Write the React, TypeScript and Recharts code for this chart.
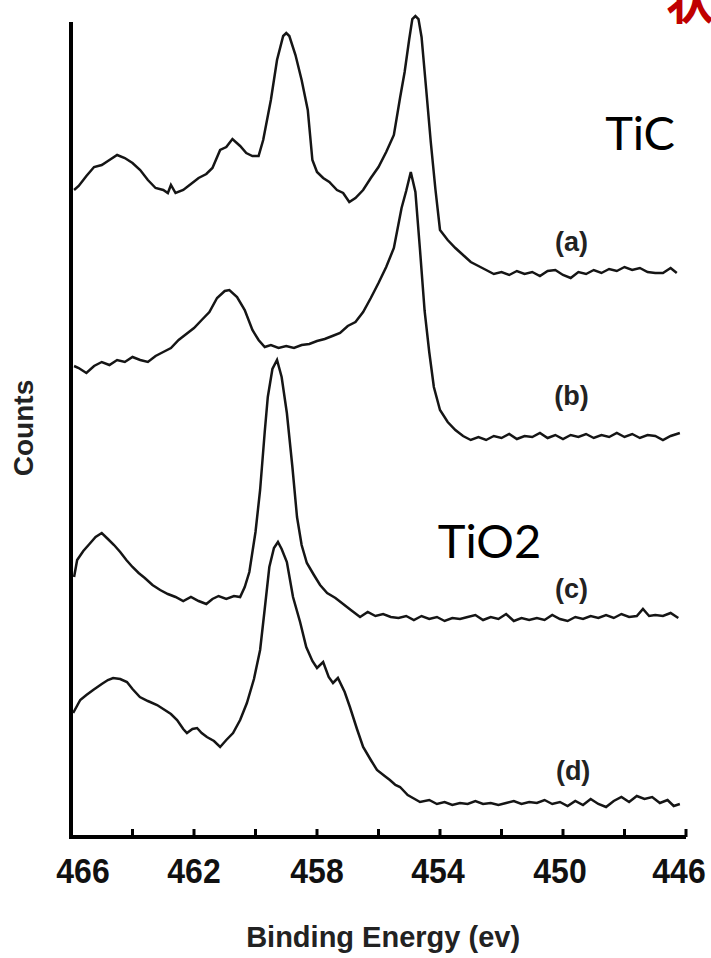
import { LineChart, Line, XAxis, YAxis, ReferenceLine, ReferenceDot } from 'recharts'

// binding energy (eV) and counts (arbitrary, already stacked) for each spectrum
const energyA = [465.9, 465.75, 465.5, 465.25, 465.0, 464.75, 464.5, 464.25, 464.0, 463.75, 463.5, 463.25, 463.0, 462.85, 462.75, 462.6, 462.35, 462.1, 461.85, 461.6, 461.4, 461.15, 460.95, 460.75, 460.5, 460.3, 460.1, 459.9, 459.75, 459.5, 459.3, 459.1, 459.0, 458.9, 458.7, 458.5, 458.3, 458.15, 458.0, 457.8, 457.6, 457.35, 457.15, 456.95, 456.75, 456.5, 456.25, 456.0, 455.75, 455.5, 455.3, 455.15, 455.0, 454.9, 454.8, 454.7, 454.6, 454.45, 454.3, 454.15, 454.0, 453.75, 453.5, 453.25, 453.0, 452.75, 452.5, 452.25, 452.0, 451.75, 451.5, 451.25, 451.0, 450.75, 450.5, 450.25, 450.0, 449.75, 449.5, 449.25, 449.0, 448.75, 448.5, 448.25, 448.0, 447.75, 447.5, 447.25, 447.0, 446.75, 446.5, 446.3]
const countsA = [647, 651, 661, 670, 672, 677, 682, 679, 674, 667, 657, 649, 647, 644, 652, 644, 647, 653, 659, 663, 669, 687, 690, 698, 691, 684, 681, 681, 697, 737, 777, 801, 804, 801, 782, 757, 727, 677, 665, 659, 655, 647, 644, 635, 639, 647, 659, 670, 685, 702, 739, 765, 798, 818, 821, 818, 800, 748, 695, 648, 607, 597, 589, 582, 575, 571, 567, 563, 565, 562, 566, 563, 565, 561, 566, 567, 562, 559, 565, 563, 567, 564, 568, 566, 570, 567, 569, 565, 564, 564, 569, 564]

const energyB = [465.9, 465.75, 465.5, 465.25, 465.0, 464.75, 464.5, 464.25, 464.0, 463.75, 463.5, 463.25, 463.0, 462.75, 462.5, 462.25, 462.0, 461.75, 461.5, 461.25, 461.0, 460.85, 460.6, 460.35, 460.1, 459.9, 459.7, 459.5, 459.25, 459.0, 458.75, 458.5, 458.25, 458.0, 457.75, 457.5, 457.25, 457.0, 456.75, 456.5, 456.25, 456.0, 455.75, 455.5, 455.25, 455.1, 454.95, 454.8, 454.65, 454.5, 454.35, 454.2, 454.0, 453.75, 453.5, 453.25, 453.0, 452.75, 452.5, 452.25, 452.0, 451.75, 451.5, 451.25, 451.0, 450.75, 450.5, 450.25, 450.0, 449.75, 449.5, 449.25, 449.0, 448.75, 448.5, 448.25, 448.0, 447.75, 447.5, 447.25, 447.0, 446.75, 446.5, 446.2]
const countsB = [471, 469, 464, 471, 475, 472, 477, 475, 480, 477, 475, 481, 485, 489, 497, 503, 509, 517, 525, 539, 546, 547, 540, 527, 507, 497, 490, 492, 489, 491, 489, 492, 493, 496, 498, 501, 504, 511, 515, 525, 539, 554, 570, 589, 629, 646, 665, 645, 587, 526, 485, 450, 427, 415, 407, 401, 397, 400, 397, 401, 399, 403, 398, 401, 400, 404, 399, 402, 398, 402, 400, 403, 399, 402, 400, 404, 400, 403, 399, 402, 401, 397, 401, 404]

const energyC = [465.9, 465.8, 465.6, 465.4, 465.2, 465.0, 464.8, 464.6, 464.4, 464.2, 464.0, 463.8, 463.6, 463.35, 463.1, 462.85, 462.6, 462.35, 462.1, 461.85, 461.6, 461.4, 461.2, 460.95, 460.7, 460.5, 460.35, 460.2, 460.0, 459.85, 459.7, 459.6, 459.45, 459.3, 459.15, 458.98, 458.8, 458.65, 458.5, 458.33, 458.1, 457.9, 457.67, 457.4, 457.15, 456.9, 456.6, 456.35, 456.1, 455.85, 455.6, 455.35, 455.1, 454.85, 454.6, 454.35, 454.1, 453.85, 453.6, 453.35, 453.1, 452.85, 452.6, 452.35, 452.1, 451.85, 451.6, 451.35, 451.1, 450.85, 450.6, 450.35, 450.1, 449.85, 449.6, 449.35, 449.1, 448.85, 448.6, 448.35, 448.1, 447.85, 447.6, 447.4, 447.2, 447.0, 446.75, 446.5, 446.25]
const countsC = [260, 277, 286, 293, 300, 304, 298, 292, 285, 277, 270, 264, 259, 252, 247, 243, 240, 236, 240, 236, 233, 238, 241, 238, 241, 240, 250, 265, 305, 347, 405, 440, 468, 477, 460, 424, 370, 320, 292, 274, 262, 252, 244, 239, 233, 227, 220, 225, 221, 223, 220, 219, 221, 217, 221, 218, 220, 216, 219, 218, 220, 222, 217, 220, 218, 223, 216, 219, 217, 219, 217, 222, 218, 216, 220, 218, 221, 219, 222, 219, 223, 220, 221, 228, 221, 222, 221, 224, 219]

const energyD = [465.93, 465.7, 465.5, 465.28, 465.0, 464.8, 464.63, 464.4, 464.18, 464.0, 463.76, 463.5, 463.2, 463.0, 462.75, 462.55, 462.35, 462.23, 462.05, 461.9, 461.75, 461.58, 461.35, 461.15, 460.95, 460.73, 460.5, 460.28, 460.05, 459.85, 459.7, 459.55, 459.4, 459.27, 459.15, 458.98, 458.78, 458.55, 458.35, 458.15, 458.0, 457.8, 457.62, 457.48, 457.32, 457.1, 456.93, 456.7, 456.5, 456.25, 456.05, 455.8, 455.63, 455.45, 455.3, 455.05, 454.88, 454.65, 454.35, 454.1, 453.85, 453.6, 453.35, 453.1, 452.85, 452.6, 452.35, 452.1, 451.85, 451.6, 451.35, 451.1, 450.85, 450.6, 450.35, 450.1, 449.85, 449.6, 449.35, 449.1, 448.85, 448.6, 448.35, 448.1, 447.85, 447.6, 447.35, 447.1, 446.85, 446.6, 446.4, 446.2]
const countsD = [124, 137, 142, 147, 153, 157, 159, 158, 155, 148, 140, 136, 132, 128, 123, 117, 108, 104, 108, 109, 104, 100, 96, 90, 97, 104, 117, 134, 158, 187, 228, 270, 289, 295, 288, 275, 240, 215, 190, 176, 169, 175, 160, 154, 159, 145, 130, 108, 90, 77, 67, 61, 57, 52, 50, 42, 39, 35, 37, 33, 35, 32, 34, 33, 36, 33, 34, 32, 34, 36, 33, 35, 34, 37, 33, 35, 31, 36, 32, 38, 33, 30, 36, 40, 35, 41, 38, 40, 34, 37, 31, 33]

const xTicks = [466, 464, 462, 460, 458, 456, 454, 452, 450, 448, 446]
const xTickLabels = [466, 462, 458, 454, 450, 446]

const zip = (es: number[], vs: number[]) => es.map((e, i) => ({ e, v: vs[i] }))
const spectra = [zip(energyA, countsA), zip(energyB, countsB), zip(energyC, countsC), zip(energyD, countsD)]

const ARIAL = 'Liberation Sans, Arial, Helvetica, sans-serif'

// label anchors, in data units
const curveTags = [
  { text: '(a)', e: 449.72, v: 586 },
  { text: '(b)', e: 449.72, v: 432 },
  { text: '(c)', e: 449.72, v: 239 },
  { text: '(d)', e: 449.67, v: 57 },
]
const phaseTags = [
  { text: 'TiC', e: 448.63, v: 687 },
  { text: 'TiO2', e: 454.07, v: 279 },
]

const labelNudge: Record<number, number> = { 466: 12, 454: -2, 450: -3, 446: -7 }

const XTick = (props: any) => {
  const { x, y, payload } = props
  const val = payload.value
  return (
    <g>
      <line x1={x} x2={x} y1={y} y2={y - 8} stroke="#000" strokeWidth={3} />
      {xTickLabels.includes(val) && (
        <text
          transform={`translate(${x + (labelNudge[val] ?? 0)}, ${y + 46}) scale(1, 1.12)`}
          textAnchor="middle"
          fontSize={32}
          fontWeight="bold"
          fontFamily={ARIAL}
          fill="#111"
        >
          {val}
        </text>
      )}
    </g>
  )
}

export default function App() {
  return (
    <div style={{ position: 'absolute', left: 0, top: 0 }}>
      <LineChart width={711} height={958} margin={{ top: 10, right: 25, bottom: 0, left: 71 }}>
        <XAxis
          dataKey="e"
          type="number"
          domain={[446, 466]}
          reversed
          ticks={xTicks}
          interval={0}
          tickLine={false}
          tickSize={0}
          tickMargin={0}
          tick={(p: any) => <XTick {...p} />}
          axisLine={{ stroke: '#000', strokeWidth: 4 }}
          height={121}
        />
        <YAxis type="number" domain={[0, 827]} hide />
        <ReferenceLine
          segment={[{ x: 466, y: -2 }, { x: 466, y: 815 }]}
          stroke="#000"
          strokeWidth={4}
          ifOverflow="visible"
        />
        {spectra.map((d, i) => (
          <Line
            key={i}
            data={d}
            dataKey="v"
            type="linear"
            stroke="#151515"
            strokeWidth={2.5}
            dot={false}
            activeDot={false}
            isAnimationActive={false}
          />
        ))}
        {curveTags.map((t) => (
          <ReferenceDot
            key={t.text}
            x={t.e}
            y={t.v}
            ifOverflow="visible"
            shape={(p: any) => (
              <text x={p.cx} y={p.cy} textAnchor="middle" fontSize={27} fontWeight="bold" fontFamily={ARIAL} fill="#222">
                {t.text}
              </text>
            )}
          />
        ))}
        {phaseTags.map((t) => (
          <ReferenceDot
            key={t.text}
            x={t.e}
            y={t.v}
            ifOverflow="visible"
            shape={(p: any) => (
              <text x={p.cx} y={p.cy} textAnchor="start" fontSize={47} fontFamily="Lato, sans-serif" fill="#000">
                {t.text}
              </text>
            )}
          />
        ))}
        <ReferenceDot
          x={455.85}
          y={-110}
          ifOverflow="visible"
          shape={(p: any) => (
            <text x={p.cx} y={p.cy} textAnchor="middle" fontSize={29} fontWeight="bold" fontFamily={ARIAL} fill="#222">
              Binding Energy (ev)
            </text>
          )}
        />
        <ReferenceDot
          x={467.53}
          y={409}
          ifOverflow="visible"
          shape={(p: any) => (
            <text
              x={p.cx}
              y={p.cy}
              transform={`rotate(-90, ${p.cx}, ${p.cy})`}
              textAnchor="middle"
              dominantBaseline="central"
              fontSize={28}
              fontWeight="bold"
              fontFamily={ARIAL}
              fill="#222"
            >
              Counts
            </text>
          )}
        />
        <ReferenceDot
          x={445.87}
          y={818}
          ifOverflow="visible"
          shape={(p: any) => (
            <text x={p.cx} y={p.cy} textAnchor="middle" fontSize={48} fontWeight="bold" fontFamily="Noto Sans CJK SC, sans-serif" fill="#c00000">
              状
            </text>
          )}
        />
      </LineChart>
    </div>
  )
}
